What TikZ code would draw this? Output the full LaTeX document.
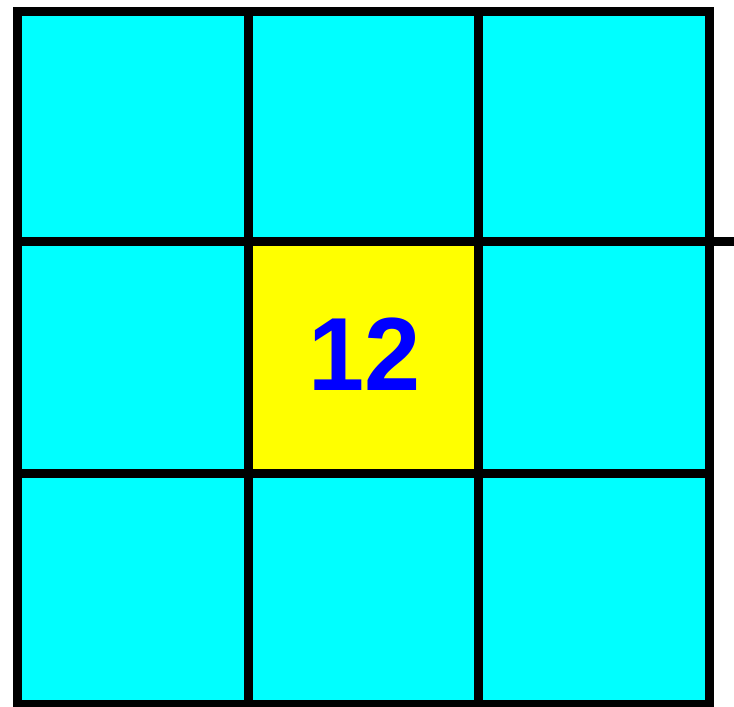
\documentclass[tikz,border=0pt]{standalone}
\usepackage{fontspec}
\setmainfont{Liberation Sans}
\definecolor{cellcyan}{RGB}{0,255,255}
\definecolor{cellyellow}{RGB}{255,255,0}
\definecolor{numblue}{RGB}{0,0,255}
\begin{document}
\begin{tikzpicture}[x=1pt,y=-1pt,
  gridline/.style={line width=9pt},
  numlabel/.style={inner sep=0pt,text=numblue,font=\fontsize{104}{104}\selectfont\bfseries}]
\useasboundingbox (0,0) rectangle (734,707);
% cells
\fill[cellcyan] (17,11) rectangle (709,704);
\fill[cellyellow] (248.5,241) rectangle (478.5,473);
\node[numlabel,xscale=0.97] (center) at (364.5,354.5) {12};
% grid
\draw[gridline] (17,11) rectangle (709,704);
\draw[gridline] (248.5,11) -- (248.5,704);
\draw[gridline] (478.5,11) -- (478.5,704);
\draw[gridline] (17,241) -- (734,241);
\draw[gridline] (17,473) -- (709,473);
\end{tikzpicture}
\end{document}
